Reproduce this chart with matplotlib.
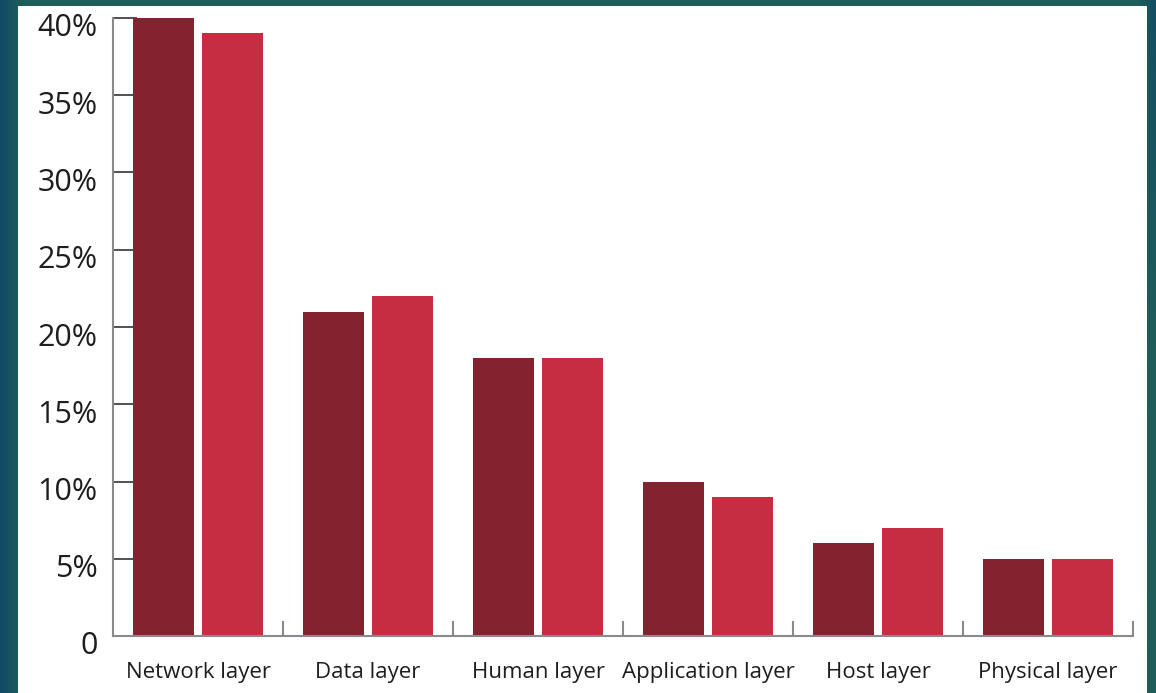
import numpy as np
import matplotlib
matplotlib.use("Agg")
import matplotlib.pyplot as plt
import matplotlib.transforms as mtransforms
from matplotlib.patches import Rectangle
from matplotlib.colors import LinearSegmentedColormap

categories = ["Network layer", "Data layer", "Human layer",
              "Application layer", "Host layer", "Physical layer"]
series_a = [40, 21, 18, 10, 6, 5]   # dark red
series_b = [39, 22, 18, 9, 7, 5]    # light red
y_ticks = [0, 5, 10, 15, 20, 25, 30, 35, 40]
y_labels = ["0", "5%", "10%", "15%", "20%", "25%", "30%", "35%", "40%"]

plt.rcParams['font.family'] = ['Open Sans', 'DejaVu Sans']

fig = plt.figure(figsize=(11.56, 6.93), dpi=100)

# background gradient (blue at outer left edge -> teal)
bg = fig.add_axes([0, 0, 1, 1], zorder=-10)
xx = np.linspace(0, 1, 400)
yy = np.linspace(0, 1, 240)
X, Y = np.meshgrid(xx, yy)
t = np.clip(1 - X / 0.016, 0, 1) * 0.9 + np.clip((X - 0.985) / 0.015, 0, 1) * np.clip(1 - Y / 0.5, 0, 1) * 0.7
cmap = LinearSegmentedColormap.from_list("bg", ["#1f5d5a", "#0e4767"])
bg.imshow(t, cmap=cmap, vmin=0, vmax=1, aspect="auto", extent=[0, 1, 0, 1])
bg.axis("off")

# white panel
fig.patches.append(Rectangle((18 / 1156, 0), (1147 - 18) / 1156, 1 - 6 / 693,
                             transform=fig.transFigure, facecolor="white",
                             edgecolor="none", zorder=-5))

ax = fig.add_axes([113 / 1156, 1 - 636 / 693, 1020 / 1156, 618 / 693])
ax.patch.set_alpha(0)
x = np.arange(len(categories))
w = 0.36
ax.bar(x - 0.203, series_a, width=w, color="#832330")
ax.bar(x + 0.203, series_b, width=w, color="#c62d43")

ax.set_xlim(-0.5, len(categories) - 0.5)
ax.set_ylim(0, 40)
ax.set_axisbelow(True)

for s in ["top", "right"]:
    ax.spines[s].set_visible(False)
for s in ["left", "bottom"]:
    ax.spines[s].set_color("#8a8a8a")
    ax.spines[s].set_linewidth(1.5)

ax.set_yticks(y_ticks)
ax.set_yticklabels(y_labels)
ax.tick_params(axis="y", direction="in", length=17, width=1.2, color="#333333",
               labelsize=22, labelcolor="#1e1e1e", pad=11)
shift = mtransforms.ScaledTranslation(0, -7 / 100, fig.dpi_scale_trans)
for lab in ax.get_yticklabels():
    lab.set_transform(lab.get_transform() + shift)

ax.set_xticks(x)
ax.set_xticklabels(categories)
ax.set_xticks(np.arange(0.5, len(categories), 1), minor=True)
ax.tick_params(axis="x", which="major", length=0, labelsize=16,
               labelcolor="#1e1e1e", pad=19)
ax.tick_params(axis="x", which="minor", direction="in", length=11, width=1.5,
               color="#8a8a8a")

fig.savefig("out.png", dpi=100)
